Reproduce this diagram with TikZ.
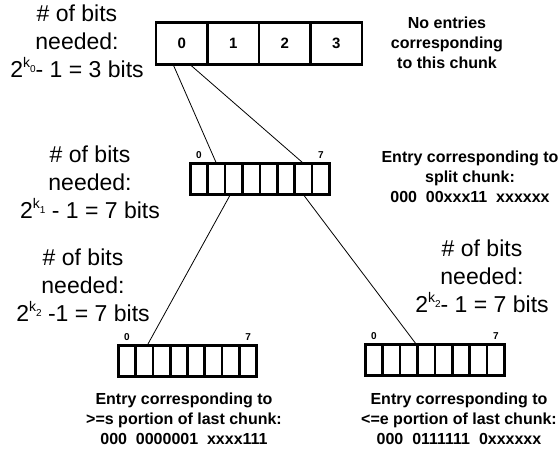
\documentclass[tikz,border=0pt]{standalone}
\usepackage{fontspec}
\setmainfont{Liberation Sans}
\usetikzlibrary{calc,positioning}

% exponent 2^{k_i}: raised k with a small index beside it
\newcommand\kpow[1]{\raisebox{9.5pt}{\fontsize{14}{14}\selectfont k}\raisebox{4.5pt}{\fontsize{10}{10}\selectfont #1}}

\tikzset{
  cell/.style={draw, line width=2.6pt, inner sep=0pt, outer sep=0pt,
               minimum width=#1, font=\bfseries\fontsize{15}{15}\selectfont},
  bigcell/.style={cell=51.5pt, minimum height=42.5pt},
  smallcell/.style={cell=17.4pt, minimum height=31.4pt},
  idx/.style={inner sep=0pt, font=\bfseries\fontsize{10}{10}\selectfont},
  link/.style={line width=0.8pt},
  note/.style={align=center, inner sep=0pt, anchor=base,
               font=\fontsize{23}{28}\selectfont},
  entry/.style={align=center, inner sep=0pt, anchor=base,
                font=\bfseries\fontsize{16}{19.8}\selectfont},
}

\begin{document}
\begin{tikzpicture}[x=1pt,y=-1pt]
  \fill[white] (0,0) rectangle (560,455);
  \useasboundingbox (0,0) rectangle (560,455);

  % first-level table: 4 entries
  \foreach \i in {0,...,3}
    \node[bigcell] (t\i) at (156+25.75+51.5*\i, 43.5) {\i};

  % second-level table under entry 0
  \foreach \i in {0,...,7}
    \node[smallcell] (m\i) at (190.3+8.7+17.4*\i, 179) {};
  \node[idx, above=5pt] (m0l) at (m0.north) {0};
  \node[idx, above=5pt] (m7l) at (m7.north) {7};

  % third-level tables
  \foreach \i in {0,...,7}
    \node[smallcell] (l\i) at (118.3+8.65+17.3*\i, 361) {};
  \node[idx, above=5pt] (l0l) at (l0.north) {0};
  \node[idx, above=5pt] (l7l) at (l7.north) {7};

  \foreach \i in {0,...,7}
    \node[smallcell] (r\i) at (365.3+8.7+17.4*\i, 360) {};
  \node[idx, above=5pt] (r0l) at (r0.north) {0};
  \node[idx, above=5pt] (r7l) at (r7.north) {7};

  % pointers between levels
  \draw[link] ($(t0.south)+(-8.5,0)$) -- (m1.north);
  \draw[link] ($(t0.south)+(8.5,0)$) -- (m6.north);
  \draw[link] ($(m2.south)+(-3.5,0)$) -- ($(l1.north)+(3,0)$);
  \draw[link] (m6.south) -- ($(r2.north)+(7.5,0)$);

  % bit counts (anchored at the baseline of the last line)
  \node[note] (n0) at (77,77) {\# of bits\\needed:\\2\kpow{0}- 1 = 3 bits};
  \node[note] (n1) at (90,218) {\# of bits\\needed:\\2\kpow{1} - 1 = 7 bits};
  \node[note] (n2) at (83,321) {\# of bits\\needed:\\2\kpow{2} -1 = 7 bits};
  \node[note] (n3) at (482,312) {\# of bits\\needed:\\2\kpow{2}- 1 = 7 bits};

  % entry descriptions
  \node[entry] (e0) at (447,68) {No entries\\corresponding\\to this chunk};
  \node[entry] (e1) at (470,202) {Entry corresponding to\\split chunk:\\000\ \ 00xxx11\ \ xxxxxx};
  \node[entry] (e2) at (184,444) {Entry corresponding to\\>=s portion of last chunk:\\000\ \ 0000001\ \ xxxx111};
  \node[entry] (e3) at (459,444) {Entry corresponding to\\<=e portion of last chunk:\\000\ \ 0111111\ \ 0xxxxxx};
\end{tikzpicture}
\end{document}
